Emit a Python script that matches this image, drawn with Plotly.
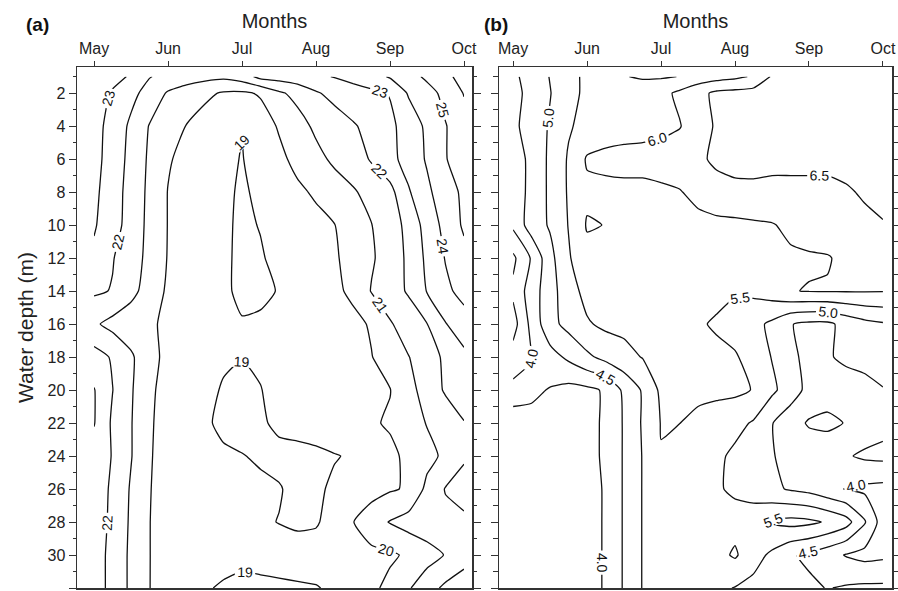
import plotly.graph_objects as go

# ---------------- data ----------------
months = [5.0, 5.25, 5.5, 5.75, 6.0, 6.25, 6.5, 6.75, 7.0, 7.25, 7.5,
          7.75, 8.0, 8.25, 8.5, 8.75, 9.0, 9.25, 9.5, 9.75, 10.0]
month_ticks = [5, 6, 7, 8, 9, 10]
month_labels = ["May", "Jun", "Jul", "Aug", "Sep", "Oct"]
depths = [1, 2, 4, 6, 8, 10, 12, 14, 16, 18, 20, 22, 24, 26, 28, 30, 32]
depth_ticks = [2, 4, 6, 8, 10, 12, 14, 16, 18, 20, 22, 24, 26, 28, 30, 32]

# panel (a): water temperature
temp_a = [
    [23.6, 23.3, 22.9, 22.05, 21.7, 21.5, 21.3, 21.2, 21.5, 22.3, 22.4, 22.6, 22.8, 23.05, 23.3, 23.6, 24.1, 24.6, 25.2, 25.8, 26.3],
    [23.5, 22.9, 22.3, 21.6, 20.9, 20.5, 20.2, 19.9, 19.85, 20.1, 20.85, 21.3, 21.9, 22.3, 22.6, 22.8, 23.05, 24.1, 24.6, 25.3, 26.05],
    [23.3, 22.7, 21.8, 20.95, 20.5, 19.97, 19.6, 19.3, 19.02, 19.5, 20.1, 20.6, 21.2, 21.5, 21.9, 22.3, 22.8, 23.4, 24.2, 24.95, 25.6],
    [23.3, 22.6, 21.7, 20.85, 20.1, 19.7, 19.4, 19.15, 18.97, 19.3, 19.75, 20.3, 20.7, 21.2, 21.5, 22.1, 22.7, 23.4, 24.1, 24.95, 25.5],
    [23.2, 22.5, 21.6, 20.8, 19.97, 19.6, 19.3, 19.15, 18.9, 19.15, 19.45, 19.8, 20.15, 20.5, 20.9, 21.3, 21.7, 22.9, 23.8, 24.55, 25.2],
    [23.1, 22.4, 21.6, 20.75, 19.97, 19.55, 19.25, 19.2, 18.8, 19.05, 19.3, 19.5, 19.7, 19.98, 20.4, 20.98, 21.5, 22.3, 23.4, 24.3, 25.15],
    [22.8, 22.05, 21.5, 20.7, 19.95, 19.5, 19.2, 19.25, 18.7, 18.9, 19.3, 19.5, 19.65, 19.9, 20.3, 20.9, 21.4, 22.2, 23.2, 24.05, 24.7],
    [22.15, 21.95, 21.3, 20.55, 19.85, 19.45, 19.2, 19.25, 18.7, 18.8, 19.05, 19.35, 19.55, 19.8, 20.2, 21.05, 21.6, 22.1, 23.05, 23.8, 24.3],
    [21.15, 20.7, 20.4, 20.15, 19.8, 19.5, 19.3, 19.2, 19.1, 19.15, 19.25, 19.35, 19.45, 19.6, 19.75, 20.1, 20.9, 21.5, 21.98, 22.95, 23.6],
    [22.4, 21.9, 21.15, 20.3, 19.75, 19.45, 19.2, 19.08, 19.02, 19.1, 19.3, 19.4, 19.5, 19.6, 19.75, 19.97, 20.45, 20.97, 21.5, 22.2, 22.75],
    [23.05, 22.02, 21.1, 20.2, 19.6, 19.3, 19.15, 18.95, 18.8, 18.98, 19.2, 19.3, 19.4, 19.5, 19.6, 19.75, 19.97, 20.6, 21.5, 22.1, 22.4],
    [23.05, 21.85, 21.05, 20.15, 19.5, 19.25, 19.1, 18.85, 18.7, 18.9, 19.15, 19.3, 19.45, 19.6, 19.75, 19.9, 20.1, 20.5, 21.05, 21.5, 21.97],
    [22.6, 21.95, 21.05, 20.1, 19.5, 19.3, 19.2, 19.1, 19.03, 18.9, 18.8, 18.75, 18.8, 18.95, 19.1, 19.4, 19.8, 20.2, 20.7, 21.2, 21.9],
    [22.5, 21.85, 20.9, 20.05, 19.5, 19.35, 19.3, 19.25, 19.2, 19.15, 19.05, 18.8, 18.85, 19.15, 19.4, 19.6, 19.9, 20.1, 21.25, 22.05, 22.3],
    [22.5, 21.8, 20.85, 20.02, 19.5, 19.35, 19.3, 19.25, 19.2, 19.1, 18.98, 18.85, 18.9, 19.4, 19.97, 20.6, 21.05, 21.4, 21.6, 21.75, 21.85],
    [22.4, 21.75, 20.8, 20.02, 19.5, 19.4, 19.35, 19.3, 19.25, 19.3, 19.35, 19.4, 19.45, 19.55, 19.65, 19.75, 19.85, 20.15, 20.6, 21.05, 21.7],
    [22.4, 21.75, 20.8, 20.02, 19.4, 19.2, 19.08, 18.9, 18.75, 18.8, 18.85, 18.9, 18.95, 19.15, 19.5, 19.8, 20.25, 20.9, 21.6, 22.2, 22.4],
]

# panel (b)
value_b = [
    [4.4, 4.7, 5.02, 5.35, 5.6, 5.6, 5.52, 5.45, 5.45, 5.51, 5.7, 5.8, 5.9, 6.05, 6.55, 6.6, 6.6, 6.6, 6.62, 6.65, 6.65],
    [4.35, 4.65, 4.98, 5.35, 5.6, 5.65, 5.7, 5.75, 5.85, 6.1, 6.35, 6.6, 6.65, 6.7, 6.7, 6.7, 6.7, 6.7, 6.7, 6.7, 6.7],
    [4.4, 4.7, 5.05, 5.45, 5.65, 5.7, 5.75, 5.8, 5.85, 5.97, 6.3, 6.55, 6.7, 6.7, 6.7, 6.7, 6.7, 6.7, 6.7, 6.7, 6.7],
    [4.3, 4.6, 5.1, 5.55, 6.05, 6.15, 6.2, 6.2, 6.25, 6.3, 6.4, 6.6, 6.7, 6.65, 6.6, 6.6, 6.6, 6.6, 6.65, 6.7, 6.7],
    [4.3, 4.6, 5.1, 5.55, 5.9, 5.85, 5.85, 5.85, 5.9, 5.97, 6.15, 6.3, 6.35, 6.4, 6.4, 6.4, 6.4, 6.4, 6.45, 6.55, 6.6],
    [4.1, 4.75, 5.05, 5.52, 6.04, 5.99, 5.85, 5.8, 5.8, 5.82, 5.85, 5.88, 5.9, 5.93, 5.97, 6.1, 6.2, 6.25, 6.3, 6.4, 6.48],
    [3.4, 4.05, 4.85, 5.45, 5.85, 5.85, 5.8, 5.78, 5.78, 5.8, 5.82, 5.85, 5.88, 5.9, 5.92, 5.93, 5.95, 5.97, 6.1, 6.15, 6.2],
    [3.6, 4.25, 4.8, 5.3, 5.65, 5.75, 5.75, 5.72, 5.7, 5.68, 5.65, 5.62, 5.55, 5.6, 5.75, 5.98, 6.02, 6.03, 6.03, 6.03, 6.02],
    [3.3, 4.15, 4.85, 5.15, 5.45, 5.6, 5.62, 5.62, 5.6, 5.58, 5.55, 5.45, 5.3, 5.15, 4.9, 4.52, 4.4, 4.4, 4.65, 4.85, 4.95],
    [3.7, 3.98, 4.3, 4.6, 4.9, 5.15, 5.35, 5.52, 5.6, 5.62, 5.62, 5.6, 5.55, 5.3, 4.98, 4.62, 4.35, 4.45, 4.6, 4.65, 4.7],
    [4.15, 4.1, 3.97, 3.85, 3.9, 4.05, 4.6, 5.05, 5.6, 5.65, 5.65, 5.62, 5.6, 5.48, 5.1, 4.75, 4.35, 4.2, 4.25, 4.35, 4.48],
    [3.85, 3.85, 3.85, 3.85, 3.9, 4.05, 4.55, 5.05, 5.52, 5.505, 5.35, 5.25, 5.15, 4.95, 4.52, 4.2, 3.95, 3.9, 4.02, 4.2, 4.35],
    [3.85, 3.85, 3.85, 3.85, 3.9, 4.05, 4.55, 5.02, 5.48, 5.35, 5.25, 5.1, 4.9, 4.7, 4.52, 4.4, 4.3, 4.3, 4.45, 4.58, 4.62],
    [3.8, 3.8, 3.8, 3.8, 3.8, 4.05, 4.55, 5.02, 5.3, 5.35, 5.25, 5.1, 4.85, 4.7, 4.6, 4.45, 4.35, 4.15, 3.98, 3.9, 3.85],
    [3.8, 3.8, 3.8, 3.8, 3.8, 4.05, 4.55, 5.02, 5.2, 5.25, 5.3, 5.35, 5.35, 5.4, 5.55, 5.65, 5.6, 5.45, 5.2, 4.55, 3.75],
    [3.8, 3.8, 3.8, 3.8, 3.8, 4.05, 4.55, 5.02, 5.2, 5.25, 5.3, 5.35, 5.56, 5.2, 4.9, 4.55, 4.4, 4.2, 3.97, 3.85, 3.9],
    [3.8, 3.8, 3.8, 3.8, 3.8, 4.05, 4.55, 5.02, 5.15, 5.2, 5.2, 5.1, 4.98, 4.85, 4.75, 4.7, 4.6, 4.48, 4.55, 4.6, 4.6],
]

# ---------------- figure ----------------
W, H = 898, 591
FONT = "Liberation Sans, Arial, sans-serif"
black = [[0, "#111111"], [1, "#111111"]]


def fx(px):
    return px / W


def fy(py):
    return 1 - py / H


fig = go.Figure()
fig.add_trace(go.Contour(
    x=months, y=depths, z=temp_a, xaxis="x", yaxis="y",
    colorscale=black, showscale=False, hoverinfo="skip",
    contours=dict(start=19, end=26, size=1, coloring="lines", showlabels=True,
                  labelformat=".0f",
                  labelfont=dict(size=14, color="#111111", family=FONT)),
    line=dict(width=1.3, smoothing=0.5),
))
fig.add_trace(go.Contour(
    x=months, y=depths, z=value_b, xaxis="x2", yaxis="y2",
    colorscale=black, showscale=False, hoverinfo="skip",
    contours=dict(start=3.5, end=6.5, size=0.5, coloring="lines", showlabels=True,
                  labelformat=".1f",
                  labelfont=dict(size=14, color="#111111", family=FONT)),
    line=dict(width=1.3, smoothing=0.5),
))

ydom = [fy(588), fy(67)]


def xax(domain, rng):
    return dict(domain=domain, range=rng, side="top", tickmode="array",
                tickvals=month_ticks, ticktext=month_labels, ticks="outside",
                ticklen=5, tickcolor="#333", showline=True, linecolor="#333",
                linewidth=1.5, mirror=True, showgrid=False, zeroline=False,
                ticklabeloverflow="allow",
                tickfont=dict(size=16, color="#222", family=FONT),
                title=dict(text="Months", standoff=6,
                           font=dict(size=20, color="#222", family=FONT)),
                automargin=False)


def yax(anchor, labels):
    d = dict(domain=ydom, range=[32, 0.42], anchor=anchor, tickmode="array",
             tickvals=depth_ticks, ticks="outside", ticklen=7, tickcolor="#333",
             showticklabels=labels, showline=True, linecolor="#333",
             linewidth=1.5, mirror="ticks", showgrid=False, zeroline=False,
             minor=dict(dtick=1, tick0=1, ticks="outside",
                        ticklen=3 if labels else 5, tickcolor="#333"),
             tickfont=dict(size=16, color="#222", family=FONT), automargin=False)
    if labels:
        d["title"] = dict(text="Water depth (m)", standoff=8,
                          font=dict(size=21, color="#222", family=FONT))
    return d


fig.update_layout(
    width=W, height=H, margin=dict(l=0, r=0, t=0, b=0),
    paper_bgcolor="white", plot_bgcolor="white", showlegend=False,
    xaxis=dict(xax([fx(77), fx(472)], [4.77, 10.108]), anchor="y"),
    yaxis=yax("x", True),
    xaxis2=dict(xax([fx(499), fx(892)], [4.81, 10.122]), anchor="y2"),
    yaxis2=yax("x2", False),
    annotations=[
        dict(text="<b>(a)</b>", x=fx(24), y=fy(24), xref="paper", yref="paper",
             xanchor="left", yanchor="middle", showarrow=False,
             font=dict(size=19, color="#111", family=FONT)),
        dict(text="<b>(b)</b>", x=fx(482), y=fy(24), xref="paper", yref="paper",
             xanchor="left", yanchor="middle", showarrow=False,
             font=dict(size=19, color="#111", family=FONT)),
    ],
)

fig.write_html("out.html",
               config={"displayModeBar": False, "staticPlot": True},
               post_script="document.body.style.margin='0';"
                           "document.body.style.overflow='hidden';")
